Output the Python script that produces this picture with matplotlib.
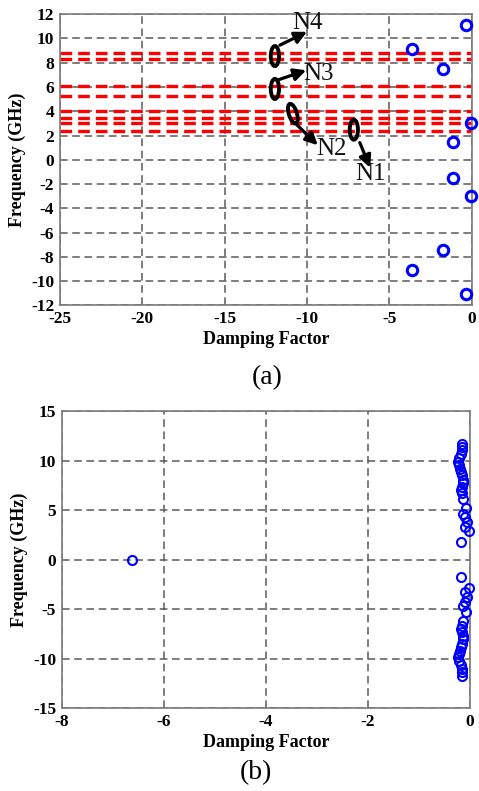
import matplotlib
matplotlib.use("Agg")
import matplotlib.pyplot as plt
from matplotlib.patches import Ellipse
import numpy as np

# ---------------- data (a) ----------------
a_damping = [-3.6, -1.75, -1.15, -0.35, -0.05]
a_freq = [9.1, 7.45, 1.5, 11.1, 3.0]
a_red_lines = [8.8, 8.3, 6.1, 5.25, 4.05, 3.45, 3.0, 2.4]
a_xticks = [-25, -20, -15, -10, -5, 0]
a_yticks = [-12, -10, -8, -6, -4, -2, 0, 2, 4, 6, 8, 10, 12]
a_labels = ["N4", "N3", "N2", "N1"]

# ---------------- data (b) ----------------
b_damping_up = [-0.15, -0.15, -0.16, -0.17, -0.21, -0.23, -0.21, -0.20, -0.17, -0.16,
                -0.13, -0.13, -0.16, -0.17, -0.16, -0.13, -0.08, -0.13, -0.10, -0.06,
                -0.10, -0.01, -0.17]
b_freq_up = [11.74, 11.4, 11.06, 10.7, 10.3, 9.88, 9.55, 9.2, 8.87, 8.53,
             8.03, 7.7, 7.36, 7.02, 6.69, 6.18, 5.27, 4.66, 4.32, 3.82,
             3.31, 2.88, 1.8]
b_outlier_damping = [-6.63]
b_outlier_freq = [0.0]
b_xticks = [-8, -6, -4, -2, 0]
b_yticks = [-15, -10, -5, 0, 5, 10, 15]

plt.rcParams['font.family'] = ['Liberation Serif', 'DejaVu Serif']
plt.rcParams['axes.unicode_minus'] = False

fig = plt.figure(figsize=(4.79, 7.91), dpi=100)

grid_kw = dict(color='#5a5a5a', linestyle=(0, (5, 3)), linewidth=1.1)
spine_color = '#7a7a7a'


def style_axes(ax, xticks, yticks):
    ax.set_xticks(xticks)
    ax.set_yticks(yticks)
    ax.grid(True, **grid_kw)
    ax.set_axisbelow(True)
    for s in ax.spines.values():
        s.set_color(spine_color)
        s.set_linewidth(1.2)
    ax.tick_params(direction='in', length=0, labelsize=12.5, pad=4)
    for lab in ax.get_xticklabels() + ax.get_yticklabels():
        lab.set_fontweight('bold')
    ax.set_xlabel('Damping Factor', fontsize=13, fontweight='bold', labelpad=3)
    ax.set_ylabel('Frequency (GHz)', fontsize=13, fontweight='bold', labelpad=4)


# ---------------- panel (a) ----------------
axa = fig.add_axes([0.125, 0.614, 0.86, 0.368])
axa.set_xlim(-25, 0)
axa.set_ylim(-12, 12)
style_axes(axa, a_xticks, a_yticks)
for yv in a_red_lines:
    axa.axhline(yv, color='red', linestyle=(0, (3.5, 1.8)), linewidth=2.4, zorder=2)
xs = np.array(a_damping)
ys = np.array(a_freq)
axa.plot(np.concatenate([xs, xs]), np.concatenate([ys, -ys]), 'o', mfc='none',
         mec='blue', ms=7.5, mew=2.2, clip_on=False, zorder=4)

ellipses = [(-11.95, 8.55, 0.0), (-11.95, 5.84, 0.0), (-10.86, 3.8, 12.0), (-7.16, 2.48, 0.0)]
for cx, cy, ang in ellipses:
    axa.add_patch(Ellipse((cx, cy), 0.5, 1.65, angle=ang, fill=False,
                          edgecolor='black', linewidth=2.8, zorder=5))

arrows = [((-11.65, 9.45), (-10.0, 10.55)),
          ((-11.77, 6.58), (-10.05, 7.38)),
          ((-10.62, 2.89), (-9.35, 1.2)),
          ((-6.8, 1.42), (-6.17, -0.65))]
for (x0, y0), (x1, y1) in arrows:
    axa.annotate('', xy=(x1, y1), xytext=(x0, y0),
                 arrowprops=dict(arrowstyle='-|>', color='black', lw=2.3,
                                 mutation_scale=18, shrinkA=0, shrinkB=0), zorder=6)

label_pos = [(-9.95, 11.3), (-9.28, 7.11), (-8.5, 0.93), (-6.13, -1.2)]
for txt, (tx, ty) in zip(a_labels, label_pos):
    axa.text(tx, ty, txt, fontsize=18, ha='center', va='center', color='#111111', zorder=7)

fig.text(0.557, 0.523, '(a)', fontsize=20, ha='center', va='center')

# ---------------- panel (b) ----------------
axb = fig.add_axes([0.129, 0.105, 0.852, 0.375])
axb.set_xlim(-8, 0)
axb.set_ylim(-15, 15)
style_axes(axb, b_xticks, b_yticks)
bx = np.array(b_damping_up)
by = np.array(b_freq_up)
axb.plot(np.concatenate([bx, bx, b_outlier_damping]),
         np.concatenate([by, -by, b_outlier_freq]), 'o', mfc='none',
         mec='blue', ms=6.5, mew=1.5, clip_on=False, zorder=4)

fig.text(0.535, 0.023, '(b)', fontsize=20, ha='center', va='center')

fig.savefig('out.png', dpi=100)
